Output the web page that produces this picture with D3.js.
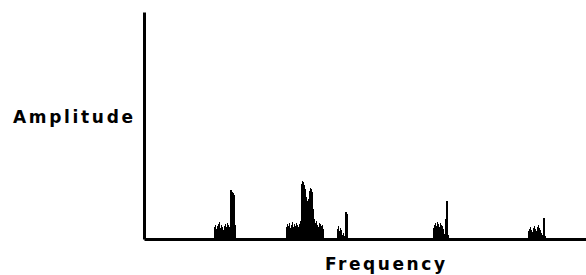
<!DOCTYPE html>
<meta charset="utf-8">
<style>
  body { margin: 0; background: #fff; }
  .label { font-family: "DejaVu Sans", sans-serif; font-weight: bold; font-size: 17px; fill: #000; }
  .axis path { stroke: #000; stroke-width: 3; }
  .bar { fill: #000; }
</style>
<body>
<svg id="chart" width="586" height="275"></svg>
<script src="https://d3js.org/d3.v7.min.js"></script>
<script>
// spectrum: each group starts at a frequency bin,
// then one amplitude per bin (arbitrary units)
var groupStart = [70, 142, 193, 289, 384];
var group1 = [12, 14, 10, 13, 15, 17, 11, 14, 12, 9, 13, 15, 12, 16, 14, 12, 49, 49, 47, 46, 44, 14];
var group2 = [12, 15, 13, 16, 11, 14, 17, 12, 15, 13, 16, 14, 12, 15, 18, 55, 58, 57, 54, 50, 42, 38, 40, 48, 51, 50, 47, 30, 20, 16, 18, 14, 12, 16, 15, 13, 14, 10];
var group3 = [10, 13, 8, 11, 9, 4, 6, 3, 27, 27, 25];
var group4 = [11, 14, 16, 13, 17, 15, 12, 16, 14, 13, 10, 5, 20, 38, 38, 4];
var group5 = [8, 10, 12, 9, 7, 11, 13, 10, 8, 12, 14, 11, 9, 6, 4, 21, 21, 3];
var groups = [group1, group2, group3, group4, group5];

var xLabel = "Frequency";
var yLabel = "Amplitude";

var svg = d3.select("#chart"),
    margin = {top: 12, right: 0, bottom: 36, left: 144},
    width = +svg.attr("width") - margin.left - margin.right,
    height = +svg.attr("height") - margin.top - margin.bottom;

var x = d3.scaleLinear().domain([0, 442]).range([margin.left, margin.left + width]);
var y = d3.scaleLinear().domain([0, 227]).range([margin.top + height, margin.top]);

var bins = [];
groups.forEach(function (g, i) {
  g.forEach(function (a, j) {
    bins.push({f: groupStart[i] + j, a: a});
  });
});

svg.selectAll(".bar")
  .data(bins)
  .enter().append("rect")
  .attr("class", "bar")
  .attr("shape-rendering", "crispEdges")
  .attr("x", function (d) { return x(d.f); })
  .attr("width", function (d) { return x(d.f + 1) - x(d.f); })
  .attr("y", function (d) { return y(d.a); })
  .attr("height", function (d) { return y(0) - y(d.a); });

svg.append("g")
  .attr("class", "axis")
  .attr("transform", "translate(0," + y(0) + ")")
  .call(d3.axisBottom(x).ticks(0).tickSizeOuter(0));

svg.append("g")
  .attr("class", "axis")
  .attr("transform", "translate(" + x(0) + ",0)")
  .call(d3.axisLeft(y).ticks(0).tickSizeOuter(0));

svg.append("text")
  .attr("class", "label")
  .attr("x", 13)
  .attr("y", 123)
  .attr("textLength", 120)
  .attr("lengthAdjust", "spacing")
  .text(yLabel);

svg.append("text")
  .attr("class", "label")
  .attr("x", 325)
  .attr("y", 270)
  .attr("textLength", 120)
  .attr("lengthAdjust", "spacing")
  .text(xLabel);
</script>
</body>
